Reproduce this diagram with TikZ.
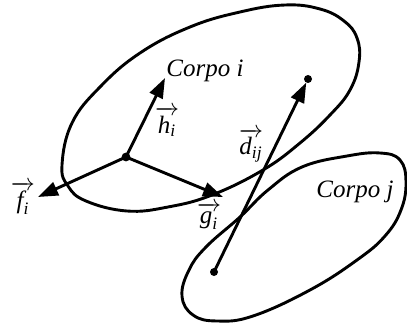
\documentclass[tikz,border=0pt]{standalone}
\usepackage{amsmath}
\usepackage{fontspec}
\setmainfont{Liberation Serif}[ItalicFont={Liberation Serif Italic}]
\usetikzlibrary{arrows.meta}
\tikzset{
  body/.style={line width=1.45pt},
  vec/.style={line width=1.45pt,-{Triangle[length=10pt,width=7pt]}},
  lbl/.style={inner sep=0pt,font=\fontsize{12.5}{14}\selectfont},
}
\newcommand{\ivec}[2]{$\overrightarrow{\textit{#1}_{\textit{#2}}}$}
\begin{document}
\begin{tikzpicture}[x=0.5pt,y=-0.5pt]
\useasboundingbox (0,0) rectangle (407,326);
% bodies
\draw[body] plot[smooth cycle,tension=0.7] coordinates {
 (62,165) (68,186) (86,201) (127,211) (168,207) (212,195) (263,170) (300,143)
 (330,115) (350,90) (359,62) (357,38) (344,21) (320,9) (285,5) (240,12) (190,27)
 (140,53) (100,87) (72,123)};
\draw[body] plot[smooth cycle,tension=0.7] coordinates {
 (182,296) (189,270) (206,247) (240,217) (268,190) (302,167) (347,156) (380,153)
 (400,160) (406,182) (401,210) (385,236) (357,260) (310,290) (253,316) (217,321)
 (193,315)};
% points
\coordinate (c) at (126,157);
\coordinate (ht) at (165,78);
\coordinate (ft) at (38,197);
\coordinate (gt) at (223,197);
\coordinate (pj) at (214,272);
\coordinate (pi) at (308,79);
\draw[vec] (c) -- (ht);
\draw[vec] (c) -- (ft);
\draw[vec] (c) -- (gt);
\draw[vec,shorten >=2pt] (pj) -- (pi);
\fill (c) circle (2.2pt);
\fill (pj) circle (2pt);
\fill (pi) circle (2pt);
% labels
\node[lbl] (hl) at (167,122) {\ivec{h}{i}};
\node[lbl] (fl) at (23,198) {\ivec{f}{i}};
\node[lbl] (gl) at (209,216) {\ivec{g}{i}};
\node[lbl] (dl) at (251,145) {\ivec{d}{ij}};
\node[lbl] (ci) at (205,71) {\textit{Corpo i}};
\node[lbl] (cj) at (355,192) {\textit{Corpo j}};
\end{tikzpicture}
\end{document}
